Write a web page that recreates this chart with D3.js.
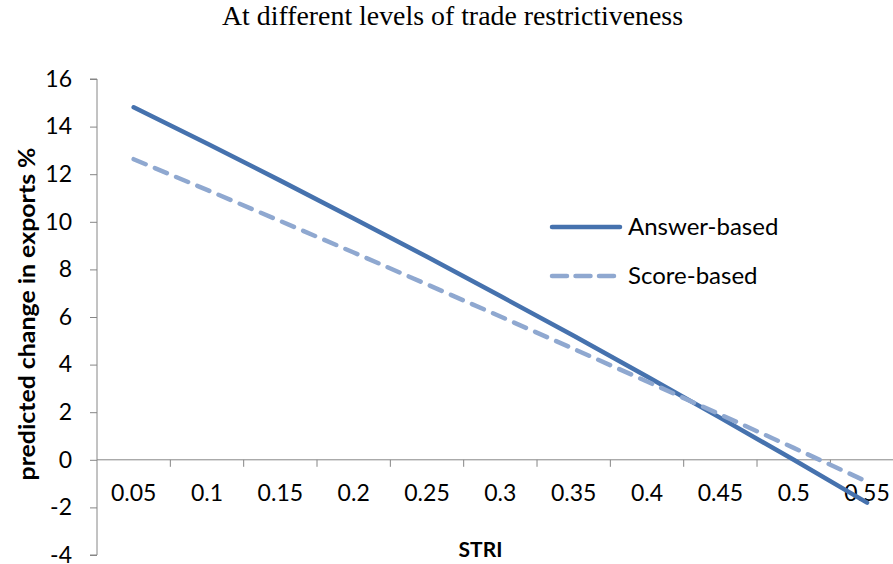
<!DOCTYPE html>
<html>
<head>
<meta charset="utf-8">
<script src="https://cdn.jsdelivr.net/npm/d3@7"></script>
<style>
  html, body { margin: 0; padding: 0; background: #fff; }
  svg { display: block; }
</style>
</head>
<body>
<div id="chart"></div>
<script>
const categories = ["0.05", "0.1", "0.15", "0.2", "0.25", "0.3", "0.35", "0.4", "0.45", "0.5", "0.55"];
const answerBased = [14.81, 13.29, 11.73, 10.14, 8.53, 6.88, 5.21, 3.50, 1.76, 0.00, -1.80];
const scoreBased  = [12.63, 11.34, 10.03, 8.71, 7.37, 6.02, 4.66, 3.29, 1.90, 0.50, -0.92];
const yTicks = [-4, -2, 0, 2, 4, 6, 8, 10, 12, 14, 16];
const seriesNames = ["Answer-based", "Score-based"];
const titleText = "At different levels of trade restrictiveness";
const xTitle = "STRI";
const yTitle = "predicted change in exports %";

(function () {
const W = 893, H = 564;
const svg = d3.select("#chart").append("svg").attr("width", W).attr("height", H);

const pLeft = 97, pRight = 903.7, pTop = 79, pBottom = 555;
const x = d3.scaleBand().domain(categories).range([pLeft, pRight]).padding(0);
const y = d3.scaleLinear().domain([-4, 16]).range([pBottom, pTop]);
const axisColor = "#868686";
const sansFont = "Lato, 'Open Sans', sans-serif";

// Title
svg.append("text").attr("x", 452.5).attr("y", 25).attr("text-anchor", "middle")
  .attr("font-family", "'Liberation Serif', 'Times New Roman', serif").attr("font-size", 27)
  .attr("textLength", 461).attr("lengthAdjust", "spacingAndGlyphs")
  .attr("fill", "#000").text(titleText);

// Y axis
const yAxis = d3.axisLeft(y).tickValues(yTicks).tickSize(7).tickPadding(18)
  .tickFormat(d => String(d));
const gy = svg.append("g").attr("transform", `translate(${pLeft},0)`).call(yAxis);
gy.select(".domain").attr("stroke", axisColor).attr("d", `M-7,${pTop}H0V${pBottom}H-7`);
gy.selectAll(".tick line").attr("stroke", axisColor);
gy.selectAll(".tick text").attr("font-family", sansFont).attr("font-size", 23).attr("fill", "#000");

// X axis at y=0
const x0 = y(0);
const gx = svg.append("g").attr("transform", `translate(0,${x0})`);
gx.append("line").attr("x1", pLeft).attr("x2", pRight).attr("y1", 0).attr("y2", 0).attr("stroke", axisColor);
const boundaries = categories.map(c => x(c) + x.bandwidth());
gx.selectAll("line.tk").data(boundaries).enter().append("line").attr("class", "tk")
  .attr("x1", d => d).attr("x2", d => d).attr("y1", 0).attr("y2", 7).attr("stroke", axisColor);
gx.selectAll("text.lbl").data(categories).enter().append("text").attr("class", "lbl")
  .attr("x", d => x(d) + x.bandwidth() / 2).attr("y", 41.5).attr("text-anchor", "middle")
  .attr("font-family", sansFont).attr("font-size", 23).attr("fill", "#000").text(d => d);

// Axis titles
svg.append("text").attr("x", 480.5).attr("y", 556.5).attr("text-anchor", "middle")
  .attr("font-family", sansFont).attr("font-weight", "bold").attr("font-size", 21).attr("fill", "#000").text(xTitle);
svg.append("text").attr("transform", "translate(34.5,314) rotate(-90)").attr("text-anchor", "middle")
  .attr("font-family", sansFont).attr("font-weight", "bold").attr("font-size", 22)
  .attr("textLength", 333).attr("lengthAdjust", "spacingAndGlyphs")
  .attr("fill", "#000").text(yTitle);

// Lines
const cx = c => x(c) + x.bandwidth() / 2;
const line = d3.line().x((d, i) => cx(categories[i])).y(d => y(d));
const styles = [
  { color: "#4672AE", dash: null },
  { color: "#8FA8D0", dash: "13,10" }
];
[answerBased, scoreBased].forEach((s, k) => {
  svg.append("path").datum(s).attr("d", line).attr("fill", "none")
    .attr("stroke", styles[k].color).attr("stroke-width", 4.5)
    .attr("stroke-linecap", "round").attr("stroke-linejoin", "round")
    .attr("stroke-dasharray", styles[k].dash);
});

// Legend
const legY = [227, 276];
seriesNames.forEach((name, k) => {
  svg.append("line").attr("x1", 552).attr("x2", 620).attr("y1", legY[k]).attr("y2", legY[k])
    .attr("stroke", styles[k].color).attr("stroke-width", 4.5).attr("stroke-linecap", "round")
    .attr("stroke-dasharray", k === 1 ? "15,8.5" : null);
  svg.append("text").attr("x", 628).attr("y", legY[k]).attr("dy", "0.35em")
    .attr("font-family", sansFont).attr("font-size", 24).attr("fill", "#000").text(name);
});
})();
</script>
</body>
</html>
